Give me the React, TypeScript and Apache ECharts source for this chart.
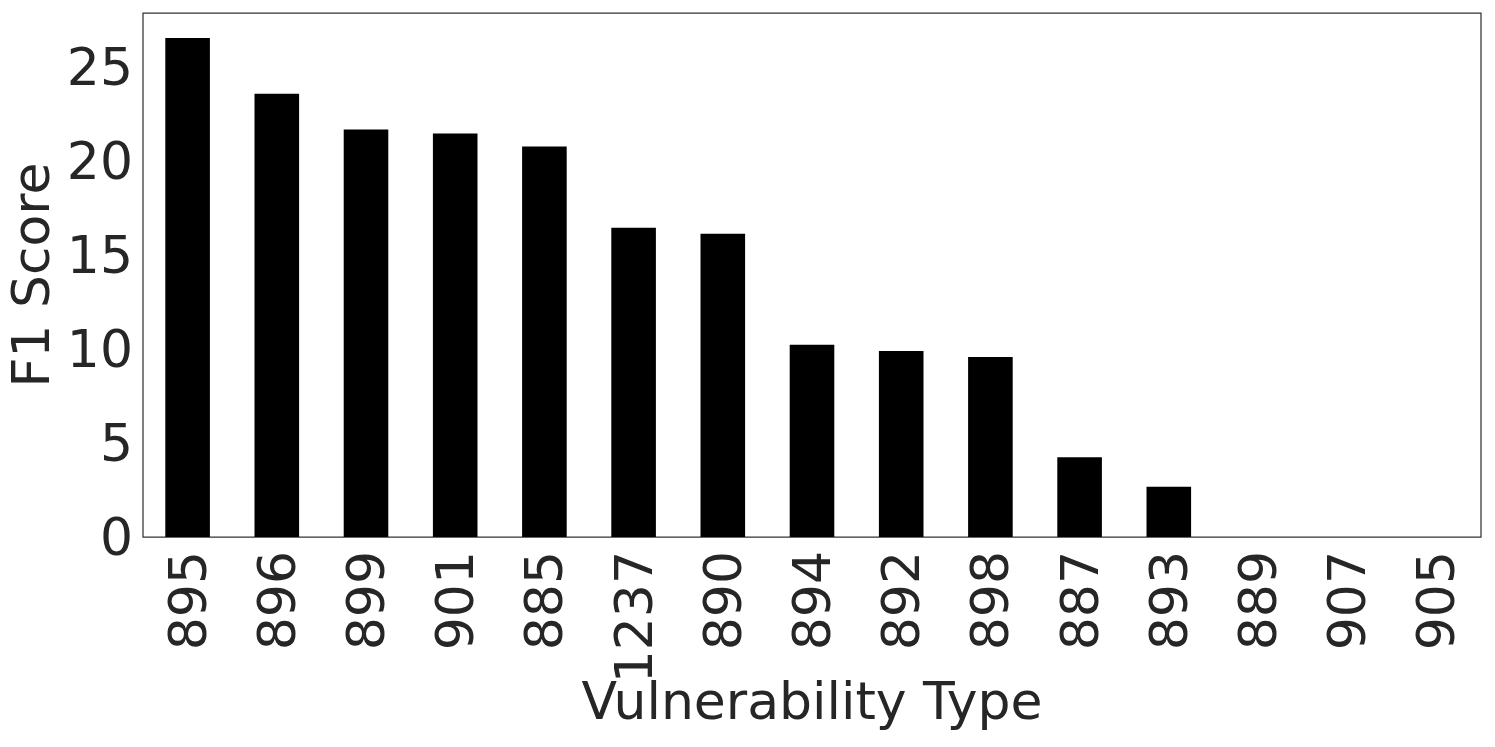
import React, { useEffect, useRef } from "react";
import * as echarts from "echarts";

const categories = ["895", "896", "899", "901", "885", "1237", "890", "894", "892", "898", "887", "893", "889", "907", "905"];
const f1Scores = [26.57, 23.6, 21.7, 21.48, 20.79, 16.47, 16.15, 10.23, 9.91, 9.59, 4.24, 2.67, 0, 0, 0];
const yTicks = [0, 5, 10, 15, 20, 25];

const FONT = "DejaVu Sans";
const TEXT = "#262626";

export default function App() {
  const ref = useRef<HTMLDivElement>(null);
  useEffect(() => {
    document.body.style.margin = "0";
    const chart = echarts.init(ref.current!, undefined, { renderer: "svg" });
    chart.setOption({
      animation: false,
      backgroundColor: "#ffffff",
      grid: {
        left: 143,
        top: 13,
        right: 14,
        bottom: 210,
        outerBoundsMode: "none",
        containLabel: false,
        show: true,
        borderColor: "#333333",
        borderWidth: 1.25,
        backgroundColor: "transparent",
      },
      xAxis: {
        type: "category",
        data: categories,
        name: "Vulnerability Type",
        nameLocation: "middle",
        nameGap: 138,
        nameMoveOverlap: false,
        nameTextStyle: { fontFamily: FONT, fontSize: 52, color: TEXT },
        axisLine: { show: false },
        axisTick: { show: false },
        axisLabel: { rotate: 90, margin: 14, fontFamily: FONT, fontSize: 52, color: TEXT, interval: 0 },
        splitLine: { show: false },
      },
      yAxis: {
        type: "value",
        min: 0,
        max: 27.9,
        interval: 5,
        name: "F1 Score",
        nameLocation: "middle",
        nameGap: 86,
        nameMoveOverlap: false,
        nameTextStyle: { fontFamily: FONT, fontSize: 52, color: TEXT },
        axisLine: { show: false },
        axisTick: { show: false },
        splitLine: { show: false },
        axisLabel: {
          margin: 10,
          fontFamily: FONT,
          fontSize: 52,
          color: TEXT,
          formatter: (v: number) => (yTicks.includes(v) ? String(v) : ""),
        },
      },
      series: [
        {
          type: "bar",
          data: f1Scores,
          barWidth: "50%",
          itemStyle: { color: "#000000" },
        },
      ],
    });
    return () => chart.dispose();
  }, []);
  return <div ref={ref} style={{ width: 1495, height: 747 }} />;
}
